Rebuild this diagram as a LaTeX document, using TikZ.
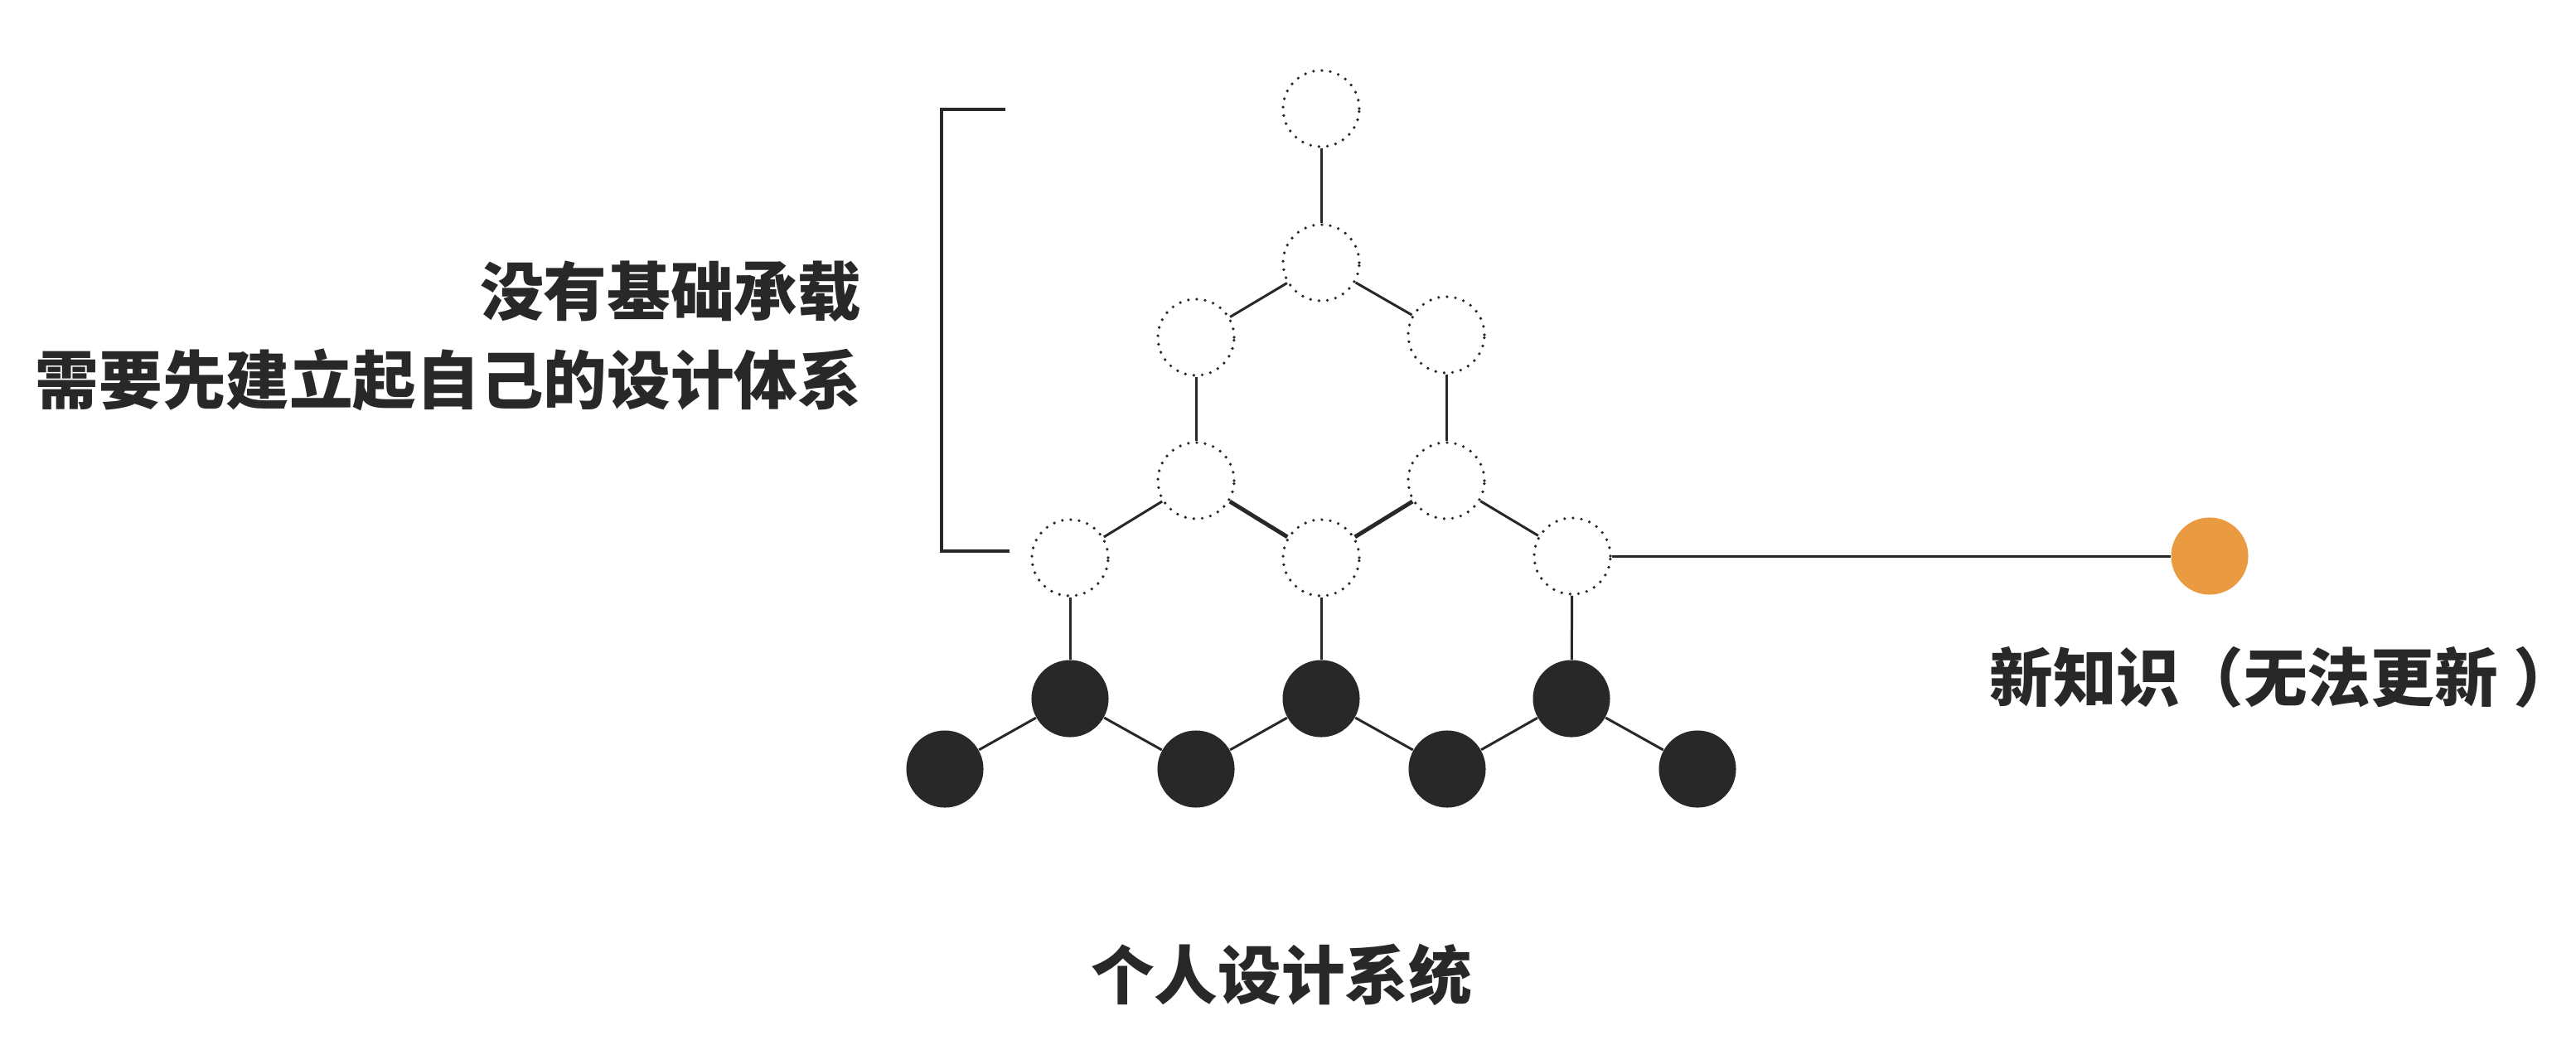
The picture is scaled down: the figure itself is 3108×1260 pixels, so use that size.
\documentclass[tikz,border=0pt]{standalone}
\usepackage{fontspec}
\newfontfamily\cjk{Noto Sans CJK SC}
\definecolor{ink}{HTML}{282828}
\definecolor{orng}{HTML}{EA9A40}
\begin{document}
\begin{tikzpicture}[x=0.01cm,y=-0.01cm,
  dotc/.style={circle,draw=ink,line width=1.05pt,dash pattern=on 0pt off 2.9pt,line cap=round,minimum size=0.92cm,inner sep=0pt},
  blk/.style={circle,fill=ink,minimum size=0.93cm,inner sep=0pt},
  org/.style={circle,fill=orng,minimum size=0.93cm,inner sep=0pt},
  edge/.style={draw=ink,line width=0.85pt},
  thk/.style={draw=ink,line width=1.4pt},
  lbl/.style={text=ink,font=\cjk\bfseries\fontsize{21.8pt}{30.4pt}\selectfont,inner sep=0pt}]
\useasboundingbox (0,0) rectangle (3108,1260);
% dotted (upper) structure
\node[dotc] (dT)  at (1594,131) {};
\node[dotc] (dA)  at (1594,317) {};
\node[dotc] (dUL) at (1443,407) {};
\node[dotc] (dUR) at (1745,404) {};
\node[dotc] (dML) at (1443,580) {};
\node[dotc] (dMR) at (1745,580) {};
\node[dotc] (dBL) at (1291,673) {};
\node[dotc] (dBC) at (1594,673) {};
\node[dotc] (dBR) at (1897,671) {};
% black (base) structure
\node[blk] (bT1) at (1291,843) {};
\node[blk] (bT2) at (1594,843) {};
\node[blk] (bT3) at (1896,843) {};
\node[blk] (bB1) at (1140,928) {};
\node[blk] (bB2) at (1443,928) {};
\node[blk] (bB3) at (1746,928) {};
\node[blk] (bB4) at (2048,928) {};
% new knowledge
\node[org] (nk) at (2666,671) {};
% connectors
\path[edge] (dT) -- (dA);
\path[edge] (dA) -- (dUL);
\path[edge] (dA) -- (dUR);
\path[edge] (dUL) -- (dML);
\path[edge] (dUR) -- (dMR);
\path[edge] (dML) -- (dBL);
\path[thk] (dML) -- (dBC);
\path[thk] (dBC) -- (dMR);
\path[edge] (dMR) -- (dBR);
\path[edge] (dBR) -- (nk);
\path[edge] (dBL) -- (bT1);
\path[edge] (dBC) -- (bT2);
\path[edge] (dBR) -- (bT3);
\path[edge] (bB1) -- (bT1);
\path[edge] (bT1) -- (bB2);
\path[edge] (bB2) -- (bT2);
\path[edge] (bT2) -- (bB3);
\path[edge] (bB3) -- (bT3);
\path[edge] (bT3) -- (bB4);
% bracket
\draw[ink,line width=1.1pt] (1213,132) -- (1136,132) -- (1136,665) -- (1218,665);
% labels
\node[lbl,anchor=east,align=right] (tl) at (1040,405) {没有基础承载\\需要先建立起自己的设计体系};
\node[lbl] (tb) at (1546,1176) {个人设计系统};
\node[lbl] (tr) at (2755,817) {新知识（无法更新\hspace{0.25em}）};
\end{tikzpicture}
\end{document}
